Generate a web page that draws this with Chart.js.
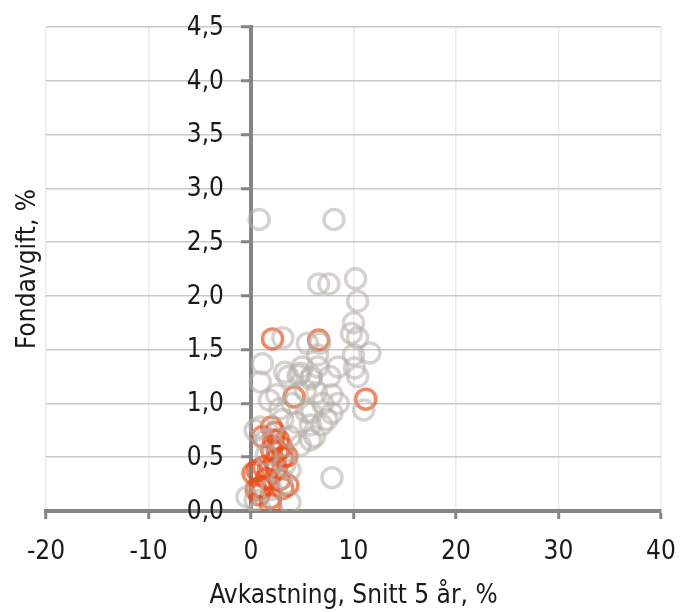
<!DOCTYPE html>
<html>
<head>
<meta charset="utf-8">
<script src="https://cdn.jsdelivr.net/npm/chart.js@4/dist/chart.umd.min.js"></script>
<style>
  html, body { margin: 0; padding: 0; background: #ffffff; }
  #chart-wrap { width: 686px; height: 612px; }
</style>
</head>
<body>
<div id="chart-wrap"><canvas id="my-chart"></canvas></div>
<script>
'use strict';

// ******** DATA **************
// gray funds: avkastning (x) and fondavgift (y)
let grayX = [0.8, 8.1, 6.6, 7.6, 10.2, 10.4, 10.0, 9.8, 10.4, 6.7, 3.1, 5.5, 10.0, 11.6, 6.5, 8.5, 10.1, 6.5,
  1.1, 3.3, 5.0, 4.6, 0.9, 3.6, 4.8, 5.8, 5.9, 7.7, 10.4, 2.5, 5.3, 6.4, 7.9, 11.0, 5.9, 7.9, 8.5, 5.4,
  7.4, 0.9, 3.1, 4.5, 5.8, 6.2, 7.9, 0.4, 1.4, 3.8, 4.8, 5.8, 3.3, 3.8, 0.4, 3.8, -0.4, 0.9, 3.0, 2.0,
  1.8, 4.0, 2.8, 7.0, 1.5, 6.9];
let grayY = [2.71, 2.71, 2.11, 2.11, 2.16, 1.95, 1.75, 1.65, 1.61, 1.56, 1.61, 1.56, 1.45, 1.47, 1.45, 1.34, 1.33, 1.34,
  1.37, 1.29, 1.34, 1.26, 1.20, 1.25, 1.28, 1.23, 1.25, 1.25, 1.25, 1.08, 1.12, 1.10, 1.08, 0.94, 0.91, 0.91, 1.00, 0.92,
  0.85, 0.78, 0.85, 0.82, 0.80, 0.69, 0.31, 0.75, 0.66, 0.69, 0.61, 0.66, 0.43, 0.38, 0.10, 0.08, 0.13, 0.01, 0.30, 0.20,
  1.03, 1.00, 0.95, 1.00, 0.52, 0.80];

// highlighted funds
let redX = [2.1, 6.6, 4.2, 11.2, 2.0, 1.1, 2.3, 2.7, 3.0, 3.5, 2.2, 2.0, 3.1, 1.2, 0.6, 1.7, 2.3, 0.2, 2.8,
  1.1, 0.9, 0.5, 3.6, 1.9, 1.9, 3.1, 1.5, 2.5, 0.8, 2.6];
let redY = [1.60, 1.59, 1.06, 1.04, 0.78, 0.69, 0.73, 0.66, 0.59, 0.51, 0.66, 0.57, 0.50, 0.41, 0.38, 0.38, 0.46, 0.35, 0.29,
  0.22, 0.22, 0.20, 0.24, 0.12, 0.06, 0.21, 0.30, 0.40, 0.15, 0.55];

let xTicks = [-20, -10, 0, 10, 20, 30, 40];
let yTicks = [0, 0.5, 1, 1.5, 2, 2.5, 3, 3.5, 4, 4.5];

let xTitle = 'Avkastning, Snitt 5 år, %';
let yTitle = 'Fondavgift, %';

// ********* HELPERS ****************
function toPoints(xs, ys) {
  let pts = [];
  for (let i = 0; i < xs.length; i++) {
    pts.push({ x: xs[i], y: ys[i] });
  }
  return pts;
}

function fmtComma(v) {
  return v.toFixed(1).replace('.', ',');
}

const FONT = "'DejaVu Sans Condensed', 'Liberation Sans Narrow', sans-serif";
const FONT_SIZE = 26;
const TEXT_COLOR = '#1a1a1a';
const AXIS_GRAY = '#858585';

// y axis sits at x = 0, so Chart.js puts its labels flush on the line;
// draw them a bit further left, and the y title at the far left edge
let yLabelsPlugin = {
  id: 'yLabels',
  beforeDatasetsDraw(chart) {
    let ctx = chart.ctx;
    let xs = chart.scales.x;
    let ys = chart.scales.y;
    let axisX = xs.getPixelForValue(0);
    ctx.save();
    ctx.font = FONT_SIZE + 'px ' + FONT;
    ctx.fillStyle = TEXT_COLOR;
    ctx.textAlign = 'right';
    ctx.textBaseline = 'middle';
    for (let i = 0; i < yTicks.length; i++) {
      ctx.fillText(fmtComma(yTicks[i]), axisX - 27, ys.getPixelForValue(yTicks[i]) + 1);
    }
    ctx.restore();
  },
  afterDraw(chart) {
    let ctx = chart.ctx;
    let area = chart.chartArea;
    ctx.save();
    ctx.translate(28, (area.top + area.bottom) / 2);
    ctx.rotate(-Math.PI / 2);
    ctx.font = FONT_SIZE + 'px ' + FONT;
    ctx.fillStyle = TEXT_COLOR;
    ctx.textAlign = 'center';
    ctx.textBaseline = 'middle';
    ctx.fillText(yTitle, 0, 0);
    ctx.restore();
  }
};

// ************** CHART ************************
let canvasElem = document.getElementById('my-chart');

let myObj = {
  type: 'scatter',
  data: {
    datasets: [{
      label: 'Fonder',
      data: toPoints(grayX, grayY),
      borderColor: 'rgba(180, 174, 168, 0.55)',
      backgroundColor: 'rgba(0, 0, 0, 0)',
      pointRadius: 10,
      pointBorderWidth: 3.5,
      pointHoverRadius: 10
    },
    {
      label: 'Utvalda',
      data: toPoints(redX, redY),
      borderColor: 'rgba(230, 80, 30, 0.68)',
      backgroundColor: 'rgba(0, 0, 0, 0)',
      pointRadius: 10,
      pointBorderWidth: 3.5,
      pointHoverRadius: 10
    }]
  },
  options: {
    responsive: true,
    maintainAspectRatio: false,
    animation: false,
    layout: {
      padding: { top: 27, right: 25, left: 46, bottom: 0 }
    },
    plugins: {
      legend: { display: false },
      tooltip: { enabled: false }
    },
    scales: {
      x: {
        type: 'linear',
        min: xTicks[0],
        max: xTicks[xTicks.length - 1],
        afterBuildTicks: (axis) => { axis.ticks = xTicks.map(v => ({ value: v })); },
        // fixed axis box so the plot area lands where the reference has it
        afterFit: (axis) => {
          axis.height = 101;
          axis.paddingLeft = 0;
          axis.paddingRight = 0;
        },
        grid: {
          color: '#ebebeb',
          lineWidth: 1.5,
          tickColor: AXIS_GRAY,
          tickWidth: 3,
          tickLength: 8
        },
        border: { color: AXIS_GRAY, width: 4 },
        ticks: {
          font: { family: FONT, size: FONT_SIZE },
          color: TEXT_COLOR,
          padding: 18,
          maxRotation: 0
        },
        title: {
          display: true,
          text: xTitle,
          font: { family: FONT, size: FONT_SIZE },
          color: TEXT_COLOR,
          padding: { top: 4, bottom: 0 }
        }
      },
      y: {
        type: 'linear',
        position: { x: 0 },
        min: yTicks[0],
        max: yTicks[yTicks.length - 1],
        afterBuildTicks: (axis) => { axis.ticks = yTicks.map(v => ({ value: v })); },
        grid: {
          color: '#c9c9c9',
          lineWidth: 1.5,
          tickColor: AXIS_GRAY,
          tickWidth: 3,
          tickLength: 8
        },
        border: { color: AXIS_GRAY, width: 4 },
        ticks: { display: false }
      }
    }
  },
  plugins: [yLabelsPlugin]
};

new Chart(canvasElem, myObj);
</script>
</body>
</html>
